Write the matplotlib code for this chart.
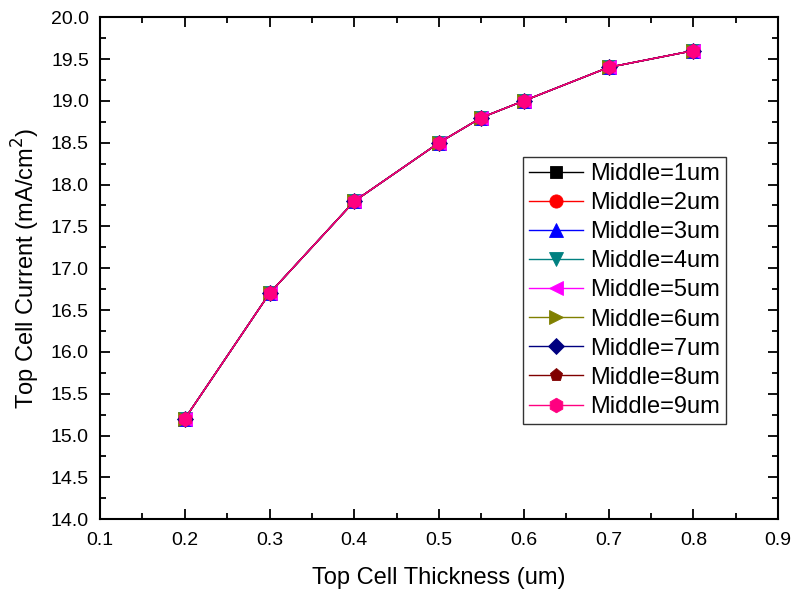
import matplotlib
matplotlib.use("Agg")
import matplotlib.pyplot as plt
from matplotlib.ticker import MultipleLocator

plt.rcParams['font.family'] = ['Liberation Sans', 'DejaVu Sans']

# Top cell thickness (um) and resulting top-cell current (mA/cm^2)
thickness = [0.2, 0.3, 0.4, 0.5, 0.55, 0.6, 0.7, 0.8]
top_current = [15.2, 16.7, 17.8, 18.5, 18.8, 19.0, 19.4, 19.6]

middle_labels = ["Middle=1um", "Middle=2um", "Middle=3um", "Middle=4um",
                 "Middle=5um", "Middle=6um", "Middle=7um", "Middle=8um",
                 "Middle=9um"]
# current for each middle-cell thickness (identical for every case)
currents = [top_current] * len(middle_labels)

colors = ["#000000", "#FF0000", "#0000FF", "#008080", "#FF00FF",
          "#808000", "#000080", "#800000", "#FF0080"]
markers = ["s", "o", "^", "v", "<", ">", "D", "p", "h"]
msizes = [8.5, 9.5, 9.5, 9.5, 9.5, 9.5, 8.5, 9.5, 10.5]

fig = plt.figure(figsize=(7.94, 5.92), dpi=100)
ax = fig.add_axes([0.126, 0.123, 0.854, 0.848])

for lbl, y, c, m, ms in zip(middle_labels, currents, colors, markers, msizes):
    ax.plot(thickness, y, color=c, marker=m, markersize=ms, linewidth=1.0,
            markeredgewidth=0.6, label=lbl)

ax.set_xlim(0.1, 0.9)
ax.set_ylim(14.0, 20.0)
ax.xaxis.set_major_locator(MultipleLocator(0.1))
ax.xaxis.set_minor_locator(MultipleLocator(0.05))
ax.yaxis.set_major_locator(MultipleLocator(0.5))
ax.yaxis.set_minor_locator(MultipleLocator(0.25))
ax.xaxis.set_major_formatter(plt.FormatStrFormatter('%.1f'))
ax.yaxis.set_major_formatter(plt.FormatStrFormatter('%.1f'))

ax.tick_params(which='both', direction='in', top=True, right=True, width=1.3)
ax.tick_params(which='major', length=7.5, labelsize=14)
ax.tick_params(axis='x', which='major', pad=9)
ax.tick_params(axis='y', which='major', pad=8)
ax.tick_params(which='minor', length=4.5)
for s in ax.spines.values():
    s.set_linewidth(1.5)

ax.set_xlabel("Top Cell Thickness (um)", fontsize=17, labelpad=13)
ax.set_ylabel("Top Cell Current (mA/cm$^2$)", fontsize=17, labelpad=6)

leg = ax.legend(loc='upper left', bbox_to_anchor=(0.624, 0.721),
                fontsize=17, frameon=True, fancybox=False, edgecolor='black',
                borderpad=0.25, labelspacing=0.3, handlelength=2.3,
                handletextpad=0.3, borderaxespad=0.0, markerscale=1.0)
leg.get_frame().set_linewidth(1.0)

fig.savefig("out.png", dpi=100)
